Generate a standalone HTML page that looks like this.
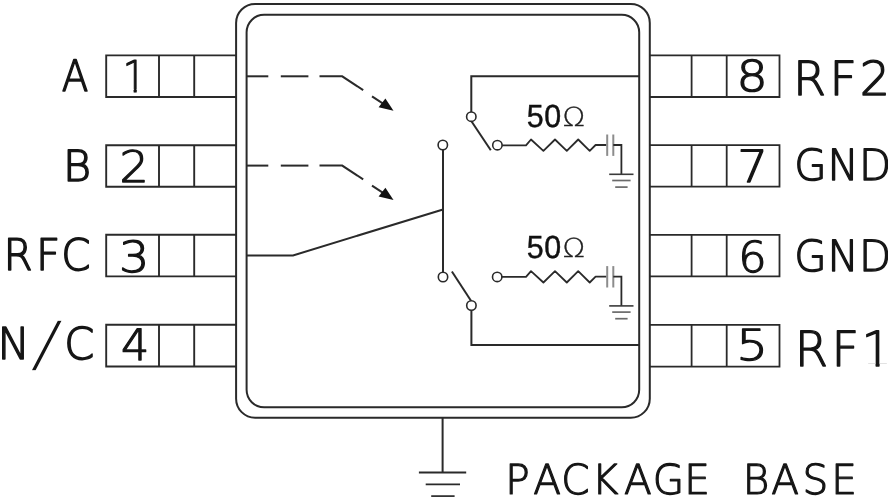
<!DOCTYPE html>
<html lang="en"><head><meta charset="utf-8"><title>Functional diagram</title>
<style>
html,body{margin:0;padding:0;background:#fff;}
body{width:888px;height:500px;overflow:hidden;}
svg{display:block;}
text{text-rendering:geometricPrecision;}
.o{font-family:'Liberation Sans','DejaVu Sans',sans-serif;fill:#111;stroke:#111;stroke-width:0.45;}
.om{font-family:'DejaVu Sans Light','DejaVu Sans','Liberation Sans',sans-serif;font-weight:200;fill:#222;stroke:#222;stroke-width:0.35;}
.t{font-family:'DejaVu Sans Light','DejaVu Sans','Liberation Sans',sans-serif;font-weight:200;fill:#151515;stroke:#151515;stroke-linejoin:round;stroke-linecap:round;}
</style></head><body>
<svg width="888" height="500" viewBox="0 0 888 500">
<rect width="888" height="500" fill="#fff"/>
<g style="opacity:0.999">
<rect x="236.1" y="3.9" width="413.69999999999993" height="413.8" rx="19" ry="19" fill="none" stroke="#2a2a2a" stroke-width="2.0"/>
<rect x="246.6" y="14.8" width="392.6" height="392.5" rx="17.5" ry="17.5" fill="none" stroke="#2a2a2a" stroke-width="2.0"/>
<polyline points="236.1,55.4 106.2,55.4 106.2,97.0 236.1,97.0" fill="none" stroke="#2a2a2a" stroke-width="1.9" />
<line x1="159.0" y1="55.4" x2="159.0" y2="97.0" stroke="#2a2a2a" stroke-width="1.9" />
<line x1="194.2" y1="55.4" x2="194.2" y2="97.0" stroke="#2a2a2a" stroke-width="1.9" />
<polyline points="649.8,55.4 779.5,55.4 779.5,97.0 649.8,97.0" fill="none" stroke="#2a2a2a" stroke-width="1.8" />
<line x1="691.6" y1="55.4" x2="691.6" y2="97.0" stroke="#2a2a2a" stroke-width="1.8" />
<line x1="726.7" y1="55.4" x2="726.7" y2="97.0" stroke="#2a2a2a" stroke-width="1.8" />
<polyline points="236.1,145.2 106.2,145.2 106.2,186.7 236.1,186.7" fill="none" stroke="#2a2a2a" stroke-width="1.9" />
<line x1="159.0" y1="145.2" x2="159.0" y2="186.7" stroke="#2a2a2a" stroke-width="1.9" />
<line x1="194.2" y1="145.2" x2="194.2" y2="186.7" stroke="#2a2a2a" stroke-width="1.9" />
<polyline points="649.8,145.2 779.5,145.2 779.5,186.7 649.8,186.7" fill="none" stroke="#2a2a2a" stroke-width="1.8" />
<line x1="691.6" y1="145.2" x2="691.6" y2="186.7" stroke="#2a2a2a" stroke-width="1.8" />
<line x1="726.7" y1="145.2" x2="726.7" y2="186.7" stroke="#2a2a2a" stroke-width="1.8" />
<polyline points="236.1,234.8 106.2,234.8 106.2,276.4 236.1,276.4" fill="none" stroke="#2a2a2a" stroke-width="1.9" />
<line x1="159.0" y1="234.8" x2="159.0" y2="276.4" stroke="#2a2a2a" stroke-width="1.9" />
<line x1="194.2" y1="234.8" x2="194.2" y2="276.4" stroke="#2a2a2a" stroke-width="1.9" />
<polyline points="649.8,234.8 779.5,234.8 779.5,276.4 649.8,276.4" fill="none" stroke="#2a2a2a" stroke-width="1.8" />
<line x1="691.6" y1="234.8" x2="691.6" y2="276.4" stroke="#2a2a2a" stroke-width="1.8" />
<line x1="726.7" y1="234.8" x2="726.7" y2="276.4" stroke="#2a2a2a" stroke-width="1.8" />
<polyline points="236.1,324.8 106.2,324.8 106.2,366.5 236.1,366.5" fill="none" stroke="#2a2a2a" stroke-width="1.9" />
<line x1="159.0" y1="324.8" x2="159.0" y2="366.5" stroke="#2a2a2a" stroke-width="1.9" />
<line x1="194.2" y1="324.8" x2="194.2" y2="366.5" stroke="#2a2a2a" stroke-width="1.9" />
<polyline points="649.8,324.8 779.5,324.8 779.5,366.6 649.8,366.6" fill="none" stroke="#2a2a2a" stroke-width="1.8" />
<line x1="691.6" y1="324.8" x2="691.6" y2="366.6" stroke="#2a2a2a" stroke-width="1.8" />
<line x1="726.7" y1="324.8" x2="726.7" y2="366.6" stroke="#2a2a2a" stroke-width="1.8" />
<line x1="246.6" y1="76.3" x2="268.3" y2="76.3" stroke="#2a2a2a" stroke-width="2.0" />
<line x1="280.8" y1="76.3" x2="308.4" y2="76.3" stroke="#2a2a2a" stroke-width="2.0" />
<polyline points="319.5,76.3 342.2,76.3 363.2,90.1" fill="none" stroke="#2a2a2a" stroke-width="2.0" />
<line x1="372" y1="96.3" x2="385" y2="104.9" stroke="#2a2a2a" stroke-width="2.0" />
<polygon points="393.5,110.8 378.6,107.2 385.4,98.4" fill="#111"/>
<line x1="246.6" y1="165.6" x2="268.3" y2="165.6" stroke="#2a2a2a" stroke-width="2.0" />
<line x1="280.8" y1="165.6" x2="308.4" y2="165.6" stroke="#2a2a2a" stroke-width="2.0" />
<polyline points="319.5,165.6 342.2,165.6 363.2,179.4" fill="none" stroke="#2a2a2a" stroke-width="2.0" />
<line x1="372" y1="185.6" x2="385" y2="194.2" stroke="#2a2a2a" stroke-width="2.0" />
<polygon points="393.5,200.1 378.6,196.5 385.4,187.7" fill="#111"/>
<polyline points="246.6,255.4 293,255.4 443,209.5" fill="none" stroke="#2a2a2a" stroke-width="2.0" />
<line x1="443" y1="150" x2="443" y2="272.5" stroke="#2a2a2a" stroke-width="2.0" />
<polyline points="639.2,76.3 471.3,76.3 471.3,112" fill="none" stroke="#2a2a2a" stroke-width="2.0" />
<line x1="471.6" y1="121.5" x2="490.8" y2="150.3" stroke="#2a2a2a" stroke-width="2.0" />
<polyline points="639.2,345.0 471.4,345.0 471.4,310" fill="none" stroke="#2a2a2a" stroke-width="2.0" />
<line x1="451.9" y1="271.5" x2="471.0" y2="300.8" stroke="#2a2a2a" stroke-width="2.0" />
<polyline points="502,145.3 526,145.3 531.0,139.5 543.4,150.9 555.0,139.5 566.8,150.9 578.2,139.5 589.7,150.9 595.6,145.0 606.5,145.0" fill="none" stroke="#2a2a2a" stroke-width="1.8" stroke-linejoin="round"/>
<line x1="607.2" y1="134.5" x2="607.2" y2="155.9" stroke="#8c8c8c" stroke-width="2.0" />
<line x1="613.3" y1="134.5" x2="613.3" y2="155.9" stroke="#8c8c8c" stroke-width="2.0" />
<polyline points="613.3,145.0 621.4,145.0 621.4,174.3" fill="none" stroke="#2a2a2a" stroke-width="1.8" />
<line x1="609.2" y1="174.3" x2="633.5" y2="174.3" stroke="#3a3a3a" stroke-width="1.6" />
<line x1="612.2" y1="180.5" x2="630.6" y2="180.5" stroke="#6a6a6a" stroke-width="1.7" />
<line x1="615.2" y1="187.10000000000002" x2="627.6" y2="187.10000000000002" stroke="#6a6a6a" stroke-width="1.7" />
<polyline points="502,276.9 526,276.9 531.0,271.09999999999997 543.4,282.5 555.0,271.09999999999997 566.8,282.5 578.2,271.09999999999997 589.7,282.5 595.6,276.59999999999997 606.5,276.59999999999997" fill="none" stroke="#2a2a2a" stroke-width="1.8" stroke-linejoin="round"/>
<line x1="607.2" y1="266.09999999999997" x2="607.2" y2="287.5" stroke="#8c8c8c" stroke-width="2.0" />
<line x1="613.3" y1="266.09999999999997" x2="613.3" y2="287.5" stroke="#8c8c8c" stroke-width="2.0" />
<polyline points="613.3,276.59999999999997 621.4,276.59999999999997 621.4,305.9" fill="none" stroke="#2a2a2a" stroke-width="1.8" />
<line x1="609.2" y1="305.9" x2="633.5" y2="305.9" stroke="#3a3a3a" stroke-width="1.6" />
<line x1="612.2" y1="312.09999999999997" x2="630.6" y2="312.09999999999997" stroke="#6a6a6a" stroke-width="1.7" />
<line x1="615.2" y1="318.7" x2="627.6" y2="318.7" stroke="#6a6a6a" stroke-width="1.7" />
<circle cx="471.3" cy="116.7" r="4.7" fill="#fff" stroke="#2a2a2a" stroke-width="1.6"/>
<circle cx="497.4" cy="145.2" r="4.7" fill="#fff" stroke="#2a2a2a" stroke-width="1.6"/>
<circle cx="442.8" cy="145.0" r="4.7" fill="#fff" stroke="#2a2a2a" stroke-width="1.6"/>
<circle cx="443.0" cy="277.0" r="4.7" fill="#fff" stroke="#2a2a2a" stroke-width="1.6"/>
<circle cx="497.2" cy="276.9" r="4.7" fill="#fff" stroke="#2a2a2a" stroke-width="1.6"/>
<circle cx="471.4" cy="305.5" r="4.7" fill="#fff" stroke="#2a2a2a" stroke-width="1.6"/>
<line x1="442.6" y1="417.7" x2="442.6" y2="472.4" stroke="#2a2a2a" stroke-width="2.0" />
<line x1="418.9" y1="472.4" x2="466.2" y2="472.4" stroke="#2a2a2a" stroke-width="2.0" />
<line x1="425.7" y1="484.3" x2="460.0" y2="484.3" stroke="#2a2a2a" stroke-width="1.7" />
<line x1="431.2" y1="496.1" x2="454.6" y2="496.1" stroke="#2a2a2a" stroke-width="1.7" />
<text class="t" transform="scale(0.8973 1)" x="68.82" y="91.20" font-size="43.35" stroke-width="1.5">A</text>
<text class="t" transform="scale(1.0019 1)" x="62.90" y="180.60" font-size="42.80" stroke-width="1.5">B</text>
<text class="t" transform="scale(0.9630 1)" x="3.69 37.34 63.69" y="270.00" font-size="43.62" stroke-width="1.5">RFC</text>
<text class="t" transform="scale(0.9840 1)" x="-2.47 29.77 65.35" y="359.10 364.73 359.10" font-size="43.90" stroke-width="1.5">N<tspan font-size="61.37" textLength="35.49" lengthAdjust="spacingAndGlyphs" stroke="#fff" stroke-width="0.95">/</tspan>C</text>
<clipPath id="c1"><rect x="134.38" y="42.90" width="45.06" height="46.20"/><rect x="134.38" y="42.90" width="14.38" height="55.83"/><rect x="157.28" y="42.90" width="3.49" height="49.95"/></clipPath>
<text class="t" clip-path="url(#c1)" transform="scale(0.8500 1)" x="144.38" y="91.72" font-size="43.83" stroke-width="1.25">1</text>
<text class="t" transform="scale(1.0581 1)" x="112.97" y="181.72" font-size="43.46" stroke-width="1.25">2</text>
<text class="t" transform="scale(1.1116 1)" x="107.16" y="271.92" font-size="42.92" stroke-width="1.25">3</text>
<text class="t" transform="scale(1.0293 1)" x="117.48" y="360.23" font-size="43.14" stroke-width="1.25">4</text>
<text class="t" transform="scale(1.1492 1)" x="640.91" y="90.73" font-size="42.66" stroke-width="1.25">8</text>
<text class="t" transform="scale(1.0905 1)" x="676.01" y="181.82" font-size="44.38" stroke-width="1.25">7</text>
<text class="t" transform="scale(1.0441 1)" x="707.07" y="271.73" font-size="42.79" stroke-width="1.25">6</text>
<text class="t" transform="scale(1.1634 1)" x="632.82" y="359.62" font-size="42.87" stroke-width="1.25">5</text>
<text class="t" transform="scale(1.0131 1)" x="782.79 818.69 848.71" y="94.88" font-size="46.98" stroke-width="1.35">RF2</text>
<text class="t" transform="scale(0.9712 1)" x="817.69 852.10 884.56" y="179.57" font-size="43.00" stroke-width="1.35">GND</text>
<text class="t" transform="scale(0.9712 1)" x="817.69 852.10 884.56" y="271.47" font-size="43.00" stroke-width="1.35">GND</text>
<clipPath id="c2"><rect x="794.55" y="312.58" width="116.45" height="50.63"/><rect x="794.55" y="312.58" width="82.51" height="60.49"/><rect x="886.50" y="312.58" width="3.82" height="54.67"/></clipPath>
<text class="t" clip-path="url(#c2)" transform="scale(0.9878 1)" x="804.55 841.70 872.21" y="366.07" font-size="48.49" stroke-width="1.35">RF1</text>
<text class="t" transform="scale(0.9821 1)" x="514.35 542.87 571.50 602.58 635.32 664.78 696.82 722.91 756.30 785.21 817.07 846.35" y="493.75" font-size="41.29" stroke-width="1.2">PACKAGE BASE</text>
<text class="o" transform="scale(.95 1)" x="554.42 572.84" y="126.6" font-size="32">50<tspan class="om" x="592.21" dy="-0.5" font-size="26.3" textLength="23.79" lengthAdjust="spacingAndGlyphs">Ω</tspan></text>
<text class="o" transform="scale(.95 1)" x="554.42 572.84" y="257.6" font-size="32">50<tspan class="om" x="592.21" dy="-0.5" font-size="26.3" textLength="23.79" lengthAdjust="spacingAndGlyphs">Ω</tspan></text>
</g>
</svg>
</body></html>
